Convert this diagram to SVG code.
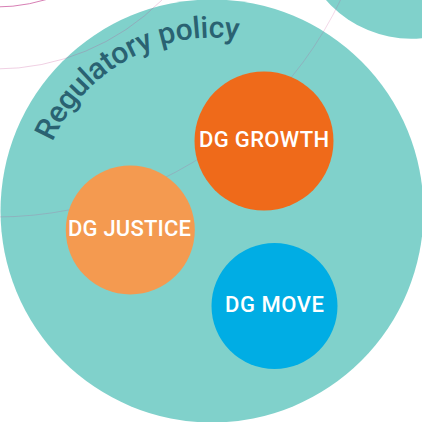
<svg xmlns="http://www.w3.org/2000/svg" width="422" height="422" viewBox="0 0 422 422">
<style>
.bg{fill:#80D1CB}
.ring{fill:none;stroke:#C23A8C}
.lbl{font-family:Roboto,"Noto Sans",sans-serif;font-weight:500;font-size:22px;fill:#fff;text-anchor:middle}
</style>
<defs><path id="arc" d="M52.500 142 A175 175 0 0 1 300 61"/></defs>
<rect width="422" height="422" fill="#fff"/>
<circle class="bg" cx="411" cy="-74" r="112.700"/>
<circle class="bg" cx="212" cy="211" r="211.500"/>
<g id="connectors">
<circle class="ring" cx="-4" cy="-165" r="172" stroke-width="1" opacity=".65"/>
<circle class="ring" cx="-4" cy="-165" r="234" stroke-width=".8" opacity=".3"/>
<circle class="ring" cx="-4" cy="-165" r="382" stroke-width=".8" opacity=".25"/>
</g>
<text font-family="Roboto, Noto Sans, sans-serif" font-size="30" font-weight="500" fill="#2A6272"><textPath href="#arc" textLength="228" lengthAdjust="spacing">Regulatory policy</textPath></text>
<g id="dg-growth"><circle cx="264" cy="141" r="69.500" fill="#EF6A1A"/><text class="lbl" x="264" y="146.500" textLength="130">DG GROWTH</text></g>
<g id="dg-justice"><circle cx="130.300" cy="230" r="64.500" fill="#F49A50"/><text class="lbl" x="129.500" y="235.500" textLength="123">DG JUSTICE</text></g>
<g id="dg-move"><circle cx="274.500" cy="306" r="63" fill="#00ADE4"/><text class="lbl" x="274.500" y="311.500" textLength="99">DG MOVE</text></g>
</svg>
